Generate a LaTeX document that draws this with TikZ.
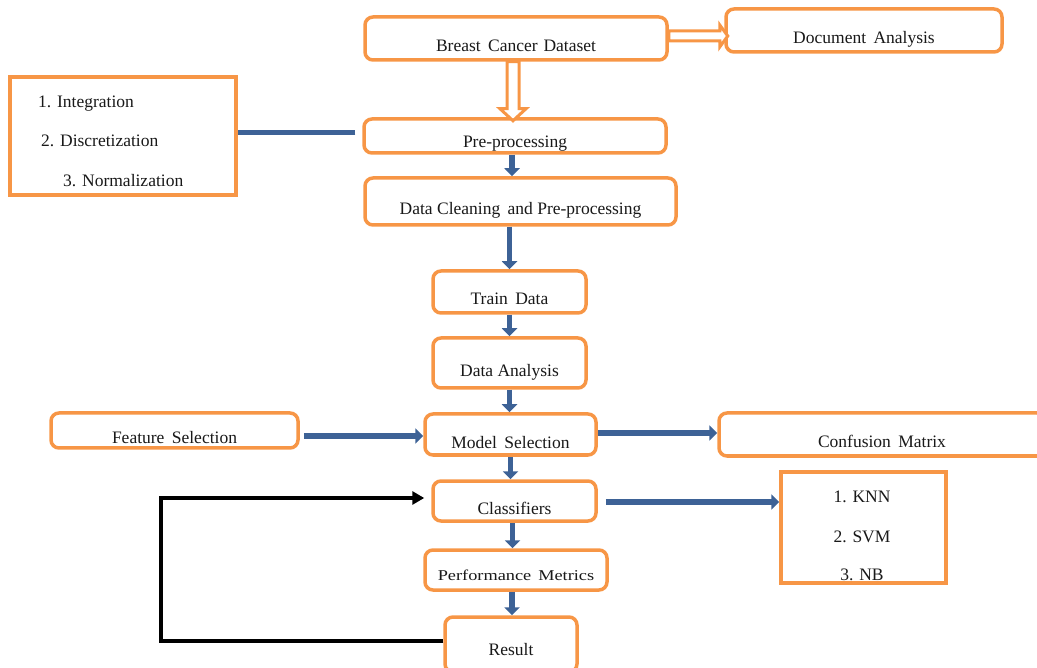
\documentclass[tikz,border=0pt]{standalone}
\usepackage{fontspec}
\setmainfont{Liberation Serif}
\usepackage{graphicx}
\usetikzlibrary{arrows.meta,calc}
\definecolor{orng}{HTML}{F79646}
\definecolor{blu}{RGB}{61,98,150}
\definecolor{ink}{RGB}{25,25,25}
\begin{document}
\begin{tikzpicture}[x=1pt,y=-1pt,
  font=\fontsize{17.5}{20}\selectfont, text=ink,
  obox/.style={draw=orng, line width=3.5pt, rounded corners=8pt, fill=white, inner sep=0pt},
  sbox/.style={draw=orng, line width=3.5pt, fill=white, inner sep=0pt},
  txt/.style={inner sep=0pt},
  barrow/.style={draw=blu, line width=5.5pt, -{Triangle[width=15pt,length=8pt]}},
  bline/.style={draw=blu, line width=5pt},
  karrow/.style={draw=black, line width=4pt, -{Triangle[width=13pt,length=12pt]}},
  hollow/.style={draw=orng, line width=3pt, fill=white, line join=miter}]
\useasboundingbox (0,0) rectangle (1037,668);
% boxes
\node[obox, minimum width=302pt, text height=35pt, text depth=8pt] (bcd) at (516,38.5) {Breast\hspace{3pt} Cancer\hspace{1.5pt} Dataset};
\node[obox, minimum width=276pt, text height=35pt, text depth=8pt] (doc) at (864,30.5) {Document\hspace{3pt} Analysis};
\node[obox, minimum width=302pt, text height=29pt, text depth=5pt] (pre) at (515,136) {Pre-processing};
\node[sbox, minimum width=226pt, minimum height=118pt] (list1) at (123,136) {};
\node[txt, anchor=base west] (i1) at (38,108) {1. Integration};
\node[txt, anchor=base west] (i2) at (41,147) {2. Discretization};
\node[txt, anchor=base west] (i3) at (63,187) {3. Normalization};
\node[obox, minimum width=311pt, text height=37pt, text depth=10pt] (clean) at (520.5,201.5) {Data Cleaning\hspace{3pt} and Pre-processing};
\node[obox, minimum width=153pt, text height=34pt, text depth=8pt] (train) at (509.5,292) {Train\hspace{3pt} Data};
\node[obox, minimum width=153pt, text height=39pt, text depth=11pt] (anal) at (509.5,363) {Data Analysis};
\node[obox, minimum width=247pt, text height=31pt, text depth=4pt] (feat) at (174.5,430.5) {Feature\hspace{3pt} Selection};
\node[obox, minimum width=171pt, text height=35pt, text depth=6pt] (model) at (510.5,434.5) {Model\hspace{3pt} Selection};
\node[obox, minimum width=326pt, text height=35pt, text depth=8pt] (conf) at (882,434.5) {Confusion\hspace{3pt} Matrix};
\node[obox, minimum width=163pt, text height=33pt, text depth=7pt] (cls) at (514.5,501) {Classifiers};
\node[sbox, minimum width=165pt, minimum height=111pt] (list2) at (863.5,527.5) {};
\node[txt, anchor=base] (k1) at (862,502) {1. KNN};
\node[txt, anchor=base] (k2) at (862,542) {2. SVM};
\node[txt, anchor=base] (k3) at (862,580) {3. NB};
\node[obox, minimum width=182pt, text height=30pt, text depth=10pt] (perf) at (516,570) {\fontsize{15}{18}\selectfont\scalebox{1.22}[1]{Performance\hspace{2pt} Metrics}};
\node[obox, minimum width=132pt, text height=38pt, text depth=17pt] (res) at (511,644.5) {Result};
% hollow arrows
\coordinate (hA) at ($(bcd.south)+(-3,0)$);
\draw[hollow] (hA) ++(-6,0) -- ++(0,47) -- ++(-7,0) -- ++(13,12) -- ++(13,-12) -- ++(-7,0) -- ++(0,-47) -- cycle;
\coordinate (hB) at ($(bcd.east)+(0,-2.5)$);
\draw[hollow] (hB) ++(0,-5) -- ++(51,0) -- ++(0,-6) -- ++(8,11) -- ++(-8,11) -- ++(0,-6) -- ++(-51,0) -- cycle;
% blue arrows
\coordinate (ps) at ($(pre.west)+(-7,-3)$);
\draw[bline] (ps) -- (ps -| list1.east);
\draw[barrow] ([xshift=-3pt]pre.south) -- ([xshift=-3pt]pre.south |- clean.north);
\draw[barrow] (clean.south -| train.north) -- (train.north);
\draw[barrow] (train.south) -- (anal.north);
\draw[barrow] (anal.south) -- (model.north -| anal.south);
\draw[barrow] (model.south) -- (cls.north -| model.south);
\draw[barrow] ([xshift=-2pt]cls.south) -- ([xshift=-2pt]cls.south |- perf.north);
\draw[barrow] (perf.south -| 512,0) -- (res.north -| 512,0);
\coordinate (fs) at ($(feat.east)+(4,5.5)$);
\draw[barrow] (fs) -- (fs -| model.west);
\coordinate (ms) at ($(model.east)+(0,-1.5)$);
\draw[barrow] (ms) -- (ms -| conf.west);
\coordinate (cs) at ($(cls.east)+(8,1)$);
\draw[barrow] (cs) -- (cs -| list2.west);
% feedback arrow
\coordinate (rs) at ($(res.west)+(0,-3.5)$);
\coordinate (ce) at ($(cls.west)+(-7,-3)$);
\draw[karrow] (rs) -- ++(-282,0) |- (ce);
\end{tikzpicture}
\end{document}
